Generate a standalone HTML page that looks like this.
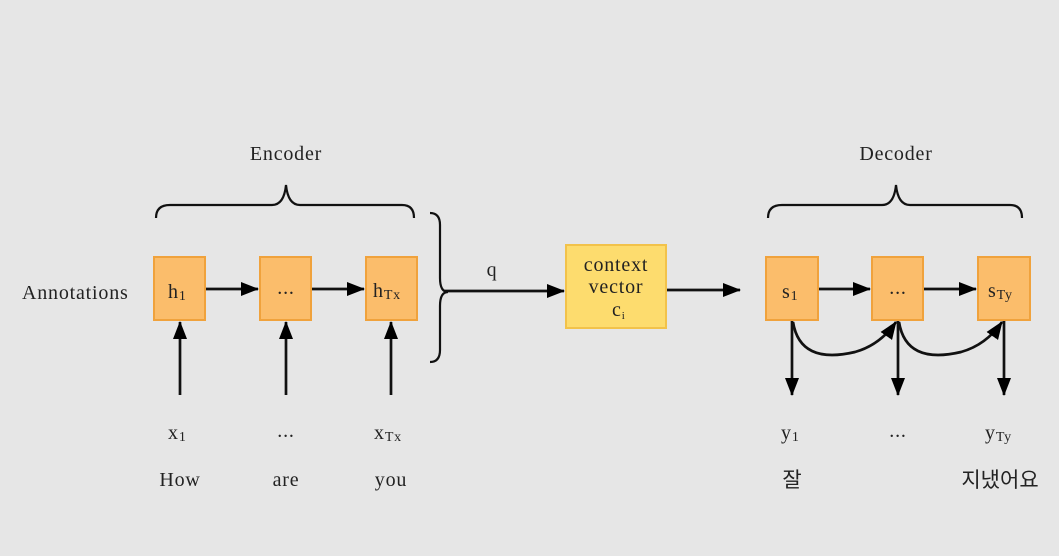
<!DOCTYPE html>
<html><head><style>
body{margin:0;background:#e6e6e6;}
svg{display:block}
text{font-family:"Liberation Serif","Noto Serif CJK SC",serif;fill:#222;font-size:20px;letter-spacing:0.8px}
.k{font-family:"Liberation Sans","Noto Sans CJK KR",sans-serif;font-size:21px;letter-spacing:0}
</style></head><body>
<svg width="1059" height="556" viewBox="0 0 1059 556">
<defs>
<marker id="b" markerWidth="18" markerHeight="14" refX="17" refY="7" orient="auto" markerUnits="userSpaceOnUse"><path d="M0,0 L18,7 L0,14 z" fill="#000"/></marker></defs>
<rect width="1059" height="556" fill="#e6e6e6"/>
<g fill="none" stroke="#111" stroke-width="2.2">
<path d="M156,218 Q156,205 170,205 L272,205 Q284,205 286,185 Q288,205 300,205 L402,205 Q414,205 414,218"/>
<path d="M768,218 Q768,205 782,205 L882,205 Q894,205 896,185 Q898,205 910,205 L1010,205 Q1022,205 1022,218"/>
<path d="M430,213 Q440,213 440,225 L440,278 Q440,292 448,292 Q440,292 440,306 L440,350 Q440,362 430,362"/>
</g>
<g stroke="#111" stroke-width="2.7" fill="none">
<line x1="205" y1="289" x2="258" y2="289" marker-end="url(#b)"/>
<line x1="311" y1="289" x2="364" y2="289" marker-end="url(#b)"/>
<line x1="444" y1="291" x2="564" y2="291" marker-end="url(#b)"/>
<line x1="666" y1="290" x2="740" y2="290" marker-end="url(#b)"/>
<line x1="818" y1="289" x2="870" y2="289" marker-end="url(#b)"/>
<line x1="923" y1="289" x2="976" y2="289" marker-end="url(#b)"/>
<line x1="180" y1="395" x2="180" y2="322" marker-end="url(#b)"/>
<line x1="286" y1="395" x2="286" y2="322" marker-end="url(#b)"/>
<line x1="391" y1="395" x2="391" y2="322" marker-end="url(#b)"/>
<line x1="792" y1="320" x2="792" y2="395" marker-end="url(#b)"/>
<line x1="898" y1="320" x2="898" y2="395" marker-end="url(#b)"/>
<line x1="1004" y1="320" x2="1004" y2="395" marker-end="url(#b)"/>
<path d="M793,322 Q800,365 855,352 Q880,345 896,322" marker-end="url(#b)"/>
<path d="M899,322 Q906,365 961,352 Q986,345 1002,322" marker-end="url(#b)"/>
</g>
<g fill="#fbbd6b" stroke="#f0a23c" stroke-width="2">
<rect x="154" y="257" width="51" height="63"/>
<rect x="260" y="257" width="51" height="63"/>
<rect x="366" y="257" width="51" height="63"/>
<rect x="766" y="257" width="52" height="63"/>
<rect x="872" y="257" width="51" height="63"/>
<rect x="978" y="257" width="52" height="63"/>
</g>
<rect x="566" y="245" width="100" height="83" fill="#fddc6e" stroke="#f2c24a" stroke-width="2"/>
<text x="286" y="160" text-anchor="middle">Encoder</text>
<text x="896" y="160" text-anchor="middle">Decoder</text>
<text x="22" y="299">Annotations</text>
<text x="168" y="298">h<tspan font-size="14" dy="2">1</tspan></text>
<text x="286" y="294" text-anchor="middle">...</text>
<text x="373" y="297">h<tspan font-size="14" dy="2">Tx</tspan></text>
<text x="492" y="276" text-anchor="middle">q</text>
<text x="616" y="271" text-anchor="middle" font-size="19">context</text>
<text x="616" y="293" text-anchor="middle" font-size="19">vector</text>
<text x="612" y="316" font-size="19">c<tspan font-size="11" dy="3">i</tspan></text>
<text x="782" y="298">s<tspan font-size="14" dy="2">1</tspan></text>
<text x="898" y="294" text-anchor="middle">...</text>
<text x="988" y="297">s<tspan font-size="14" dy="2">Ty</tspan></text>
<text x="168" y="439">x<tspan font-size="14" dy="2">1</tspan></text>
<text x="286" y="437" text-anchor="middle">...</text>
<text x="374" y="439">x<tspan font-size="14" dy="2">Tx</tspan></text>
<text x="781" y="439">y<tspan font-size="14" dy="2">1</tspan></text>
<text x="898" y="437" text-anchor="middle">...</text>
<text x="985" y="439">y<tspan font-size="14" dy="2">Ty</tspan></text>
<text x="180" y="486" text-anchor="middle">How</text>
<text x="286" y="486" text-anchor="middle">are</text>
<text x="391" y="486" text-anchor="middle">you</text>
<text x="792" y="487" text-anchor="middle" class="k">잘</text>
<text x="1000" y="487" text-anchor="middle" class="k">지냈어요</text>
</svg>
</body></html>
